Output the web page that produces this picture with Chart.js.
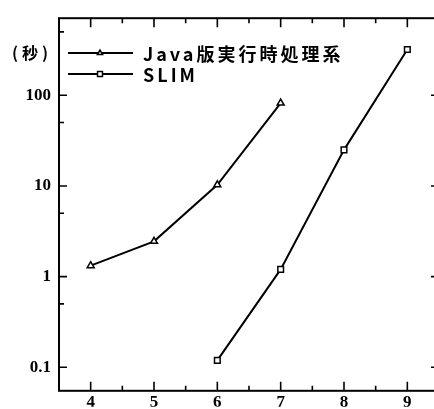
<!DOCTYPE html>
<html>
<head>
<meta charset="utf-8">
<script src="https://cdn.jsdelivr.net/npm/chart.js@4/dist/chart.umd.min.js"></script>
<style>
  html, body { margin: 0; padding: 0; background: #fff; }
  #wrap { width: 434px; height: 409px; overflow: hidden; position: relative; }
  #box { width: 446px; height: 409px; }
</style>
</head>
<body>
<div id="wrap"><div id="box"><canvas id="timeChart"></canvas></div></div>
<script>
// data
var javaX = [4, 5, 6, 7];
var javaTimes = [1.32, 2.45, 10.3, 82];
var slimX = [6, 7, 8, 9];
var slimTimes = [0.119, 1.2, 25, 320];

var xTicks = [4, 5, 6, 7, 8, 9];
var xMinorTicks = [4.5, 5.5, 6.5, 7.5, 8.5];
var yTicks = [0.1, 1, 10, 100];
var yMinorTicks = [0.5, 5, 50, 500];

var seriesNames = ["Java版実行時処理系", "SLIM"];
var yUnit = "(秒)";

function toPoints(xs, ys) {
    return xs.map(function (x, i) { return { x: x, y: ys[i] }; });
}

// frame with inward ticks on all four sides
var framePlugin = {
    id: 'frame',
    afterDatasetsDraw: function (chart) {
        var ctx = chart.ctx, a = chart.chartArea;
        var xs = chart.scales.x, ys = chart.scales.y;
        ctx.save();
        ctx.strokeStyle = '#000';
        ctx.lineWidth = 2;
        ctx.strokeRect(a.left, a.top, a.right - a.left, a.bottom - a.top);
        ctx.lineWidth = 1.6;
        ctx.beginPath();
        xTicks.forEach(function (v) {
            var px = xs.getPixelForValue(v);
            ctx.moveTo(px, a.bottom); ctx.lineTo(px, a.bottom - 9);
            ctx.moveTo(px, a.top); ctx.lineTo(px, a.top + 9);
        });
        xMinorTicks.forEach(function (v) {
            var px = xs.getPixelForValue(v);
            ctx.moveTo(px, a.bottom); ctx.lineTo(px, a.bottom - 5);
            ctx.moveTo(px, a.top); ctx.lineTo(px, a.top + 5);
        });
        yTicks.forEach(function (v) {
            var py = ys.getPixelForValue(v);
            ctx.moveTo(a.left, py); ctx.lineTo(a.left + 8, py);
            ctx.moveTo(a.right, py); ctx.lineTo(a.right - 8, py);
        });
        yMinorTicks.forEach(function (v) {
            var py = ys.getPixelForValue(v);
            if (py < a.top || py > a.bottom) return;
            ctx.moveTo(a.left, py); ctx.lineTo(a.left + 5, py);
        });
        ctx.stroke();
        ctx.restore();
    }
};

// legend drawn as line + marker, like the printed figure
var legendPlugin = {
    id: 'lineLegend',
    afterDraw: function (chart) {
        var ctx = chart.ctx;
        var a = chart.chartArea;
        ctx.save();
        ctx.fillStyle = '#000';
        ctx.textBaseline = 'middle';
        ctx.font = 'bold 16px "Noto Sans CJK JP"';
        ctx.letterSpacing = '4px';
        ctx.textAlign = 'left';
        ctx.fillText(yUnit, 12, 53);

        ctx.font = 'bold 18px "Noto Sans CJK JP"';
        ctx.letterSpacing = '3px';
        chart.data.datasets.forEach(function (ds, i) {
            var y = 53 + i * 21;
            ctx.strokeStyle = '#000';
            ctx.lineWidth = 2;
            ctx.beginPath();
            ctx.moveTo(a.left + 9, y);
            ctx.lineTo(a.left + 74, y);
            ctx.stroke();
            ctx.lineWidth = 1.5;
            ctx.fillStyle = '#fff';
            Chart.helpers.drawPoint(ctx, {
                pointStyle: ds.pointStyle,
                radius: i === 0 ? 3 : 3.5,
                rotation: 0,
                borderWidth: 1.5
            }, a.left + 41, y);
            ctx.fillStyle = '#000';
            ctx.fillText(ds.label, a.left + 84, y + 1);
        });
        ctx.restore();
    }
};

var ctx = document.getElementById('timeChart').getContext('2d');
var timeChart = new Chart(ctx, {
    type: 'line',
    data: {
        datasets: [{
            label: seriesNames[0],
            data: toPoints(javaX, javaTimes),
            borderColor: '#000',
            borderWidth: 2,
            pointStyle: 'triangle',
            pointRadius: 4,
            pointBorderWidth: 1.5,
            pointBackgroundColor: '#fff',
            pointBorderColor: '#000',
            tension: 0
        }, {
            label: seriesNames[1],
            data: toPoints(slimX, slimTimes),
            borderColor: '#000',
            borderWidth: 2,
            pointStyle: 'rect',
            pointRadius: 4,
            pointBorderWidth: 1.5,
            pointBackgroundColor: '#fff',
            pointBorderColor: '#000',
            tension: 0
        }]
    },
    options: {
        responsive: true,
        maintainAspectRatio: false,
        animation: false,
        layout: {
            padding: { left: 0, right: 7, top: 12.5, bottom: 0 }
        },
        scales: {
            x: {
                type: 'linear',
                min: 3.5,
                max: 9.5,
                grid: { display: false, drawTicks: false },
                border: { display: false },
                afterBuildTicks: function (scale) {
                    scale.ticks = xTicks.map(function (v) { return { value: v }; });
                },
                afterFit: function (scale) { scale.height = 16; },
                ticks: {
                    color: '#000',
                    padding: 2,
                    maxRotation: 0,
                    font: { family: '"Liberation Serif"', size: 17, weight: 'bold' }
                }
            },
            y: {
                type: 'logarithmic',
                min: 0.055,
                max: 708,
                grid: { display: false, drawTicks: false },
                border: { display: false },
                afterBuildTicks: function (scale) {
                    scale.ticks = yTicks.map(function (v) { return { value: v }; });
                },
                afterFit: function (scale) { scale.width = 59; },
                ticks: {
                    color: '#000',
                    padding: 8,
                    font: { family: '"Liberation Serif"', size: 17, weight: 'bold' },
                    callback: function (v) { return String(v); }
                }
            }
        },
        plugins: {
            legend: { display: false },
            tooltip: { enabled: false }
        }
    },
    plugins: [framePlugin, legendPlugin]
});
</script>
</body>
</html>
